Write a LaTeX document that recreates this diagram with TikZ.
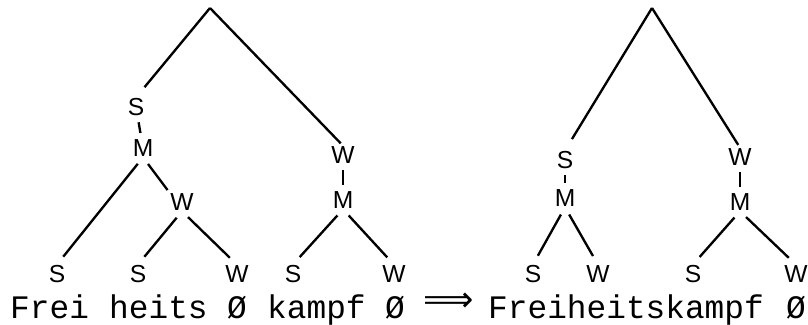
\documentclass[tikz,border=0pt]{standalone}
\usepackage{fontspec}
\usetikzlibrary{positioning}
\newfontfamily\wordfont{Liberation Mono}
\newfontfamily\markfont{Liberation Sans}
\newfontfamily\arrowfont{DejaVu Sans}
\tikzset{
  meter/.style={font=\markfont\fontsize{21}{21}\selectfont, inner sep=0.5pt},
  word/.style={font=\wordfont\fontsize{28}{28}\selectfont, inner sep=0pt, anchor=base west},
  branch/.style={line width=2pt},
  tick/.style={line width=2pt, shorten >=5pt, shorten <=5pt},
  down/.style={line width=2pt, shorten <=0.25cm, shorten >=0.3cm}
}

\begin{document}
\begin{tikzpicture}[x=0.03cm, y=0.03cm]
    \useasboundingbox (0,0) rectangle (808,324);

    % left tree
    \coordinate (rootA) at (210,316);
    \node[meter] (sA) at (136,217) {S};
    \node[meter] (mA) at (143,176) {M};
    \node[meter] (wA) at (343,169) {W};
    \node[meter] (mB) at (343,124) {M};
    \node[meter] (wC) at (182,122) {W};
    \node[meter] (s1) at (57,50) {S};
    \node[meter] (s2) at (138,50) {S};
    \node[meter] (w1) at (237,50) {W};
    \node[meter] (s3) at (293,50) {S};
    \node[meter] (w2) at (394,50) {W};

    \draw[branch, shorten >=0.4cm] (rootA) -- (sA.north);
    \draw[branch, shorten >=0.1cm] (rootA) -- (wA.north);
    \draw[tick] (sA) -- (mA);
    \draw[tick] (wA) -- (mB);
    \draw[down] (mA.south) -- (s1.north);
    \draw[down, shorten >=0.1cm] (mA.south) -- (wC.north west);
    \draw[down] (wC.south) -- (s2.north);
    \draw[down] (wC.south) -- (w1.north);
    \draw[down] (mB.south) -- (s3.north);
    \draw[down] (mB.south) -- (w2.north);

    % right tree
    \coordinate (rootB) at (652,316);
    \node[meter] (sD) at (565,164) {S};
    \node[meter] (mD) at (565,126) {M};
    \node[meter] (wE) at (740,167) {W};
    \node[meter] (mE) at (740,122) {M};
    \node[meter] (s4) at (533,50) {S};
    \node[meter] (w3) at (598,50) {W};
    \node[meter] (s5) at (693,50) {S};
    \node[meter] (w4) at (796,50) {W};

    \draw[branch, shorten >=0.4cm] (rootB) -- (sD.north);
    \draw[branch, shorten >=0.1cm] (rootB) -- (wE.north);
    \draw[tick] (sD) -- (mD);
    \draw[tick] (wE) -- (mE);
    \draw[down] (mD.south) -- (s4.north);
    \draw[down] (mD.south) -- (w3.north);
    \draw[down] (mE.south) -- (s5.north);
    \draw[down] (mE.south) -- (w4.north);

    % words
    \node[word] (frei) at (10,6) {Frei};
    \node[word] (heits) at (109,6) {heits};
    \node[word] (nullA) at (227,6) {Ø};
    \node[word] (kampf) at (267,6) {kampf};
    \node[word] (nullB) at (385,6) {Ø};
    \node[font=\arrowfont\fontsize{30}{30}\selectfont, inner sep=0pt] (yields) at (449,22) {⟹};
    \node[word] (whole) at (488,6) {Freiheitskampf};
    \node[word] (nullC) at (786,6) {Ø};
\end{tikzpicture}
\end{document}
